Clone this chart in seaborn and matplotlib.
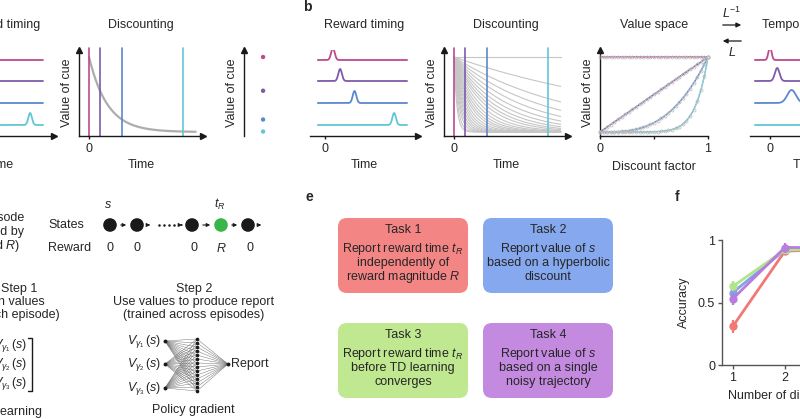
import numpy as np
import pandas as pd
import matplotlib
matplotlib.use("Agg")
import matplotlib.pyplot as plt
import seaborn as sns
from matplotlib.patches import FancyBboxPatch, Circle

sns.set_theme(style="white")
plt.rcParams["font.family"] = ["Liberation Sans", "DejaVu Sans"]
plt.rcParams["mathtext.fontset"] = "custom"
plt.rcParams["mathtext.rm"] = "Liberation Sans"
plt.rcParams["mathtext.it"] = "Liberation Sans:italic"
plt.rcParams["mathtext.bf"] = "Liberation Sans:bold"

FS = 9

# ---- data ----
cue_colors = ["#bd4a8e", "#7f5aa8", "#5b88cf", "#62c6d6"]
reward_times = np.array([0, 1, 3, 8.5])      # reward delay of each cue
cue_offset = 1.1                              # reward timing is drawn relative to cue onset
trace_offsets = [65, 44, 22, 0]               # vertical stacking of the traces
gamma_a = 0.55                                # single discount factor (panel a)
gammas_b = [1.0, 0.95, 0.91, 0.88, 0.85, 0.82, 0.79, 0.76, 0.73, 0.70, 0.66,
            0.62, 0.58, 0.54, 0.50, 0.45, 0.40, 0.35, 0.30, 0.25, 0.20, 0.15,
            0.10, 0.05, 0.02]
temporal_widths = [0.22, 0.32, 0.6, 1.2]

tasks = ["Task 1", "Task 2", "Task 3", "Task 4"]
task_colors = ["#f27777", "#7fa4ea", "#b3e38a", "#b87ddc"]
task_box_colors = ["#f48585", "#86a8ef", "#bfe890", "#c48ae0"]
n_factors = [1, 2, 3, 4]
accuracy = {
    "Task 1": [0.31, 0.91, 0.93, 0.94],
    "Task 2": [0.58, 0.92, 0.93, 0.94],
    "Task 3": [0.63, 0.92, 0.93, 0.94],
    "Task 4": [0.53, 0.94, 0.94, 0.95],
}
acc_err = {
    "Task 1": [0.05, 0.03, 0.02, 0.02],
    "Task 2": [0.03, 0.03, 0.02, 0.02],
    "Task 3": [0.04, 0.03, 0.02, 0.02],
    "Task 4": [0.05, 0.04, 0.02, 0.02],
}
task_text = {
    "Task 1": ["Report reward time $t_R$", "independently of", "reward magnitude $R$"],
    "Task 2": ["Report value of $s$", "based on a hyperbolic", "discount"],
    "Task 3": ["Report reward time $t_R$", "before TD learning", "converges"],
    "Task 4": ["Report value of $s$", "based on a single", "noisy trajectory"],
}

W, H = 800, 419
fig = plt.figure(figsize=(8, 4.19), dpi=100)
canvas = fig.add_axes([0, 0, 1, 1])
canvas.set_xlim(0, W)
canvas.set_ylim(H, 0)
canvas.axis("off")


def box_axes(x0, y0, x1, y1):
    ax = fig.add_axes([x0 / W, 1 - y1 / H, (x1 - x0) / W, (y1 - y0) / H])
    ax.set_facecolor("none")
    return ax


def arrow_axes(ax, left=True, bottom=True, bottom_arrow=True):
    for side in ["top", "right"]:
        ax.spines[side].set_visible(False)
    ax.spines["left"].set_visible(left)
    ax.spines["bottom"].set_visible(bottom)
    for s in ["left", "bottom"]:
        ax.spines[s].set_color("k")
        ax.spines[s].set_linewidth(1)
    if bottom and bottom_arrow:
        ax.plot(1, 0, ">", color="k", ms=4, transform=ax.transAxes, clip_on=False)
    if left:
        ax.plot(0, 1, "^", color="k", ms=4, transform=ax.transAxes, clip_on=False)
    ax.set_yticks([])
    ax.tick_params(axis="x", length=2.5, width=1, pad=2.5, labelsize=FS,
                   bottom=True, color="k")


def txt(x, y, s, **kw):
    kw.setdefault("ha", "center")
    kw.setdefault("va", "center")
    kw.setdefault("fontsize", FS)
    canvas.text(x, y, s, **kw)


def reward_timing(x0, title):
    # 0 of time at x0 + 15 px, 7.2 px per time unit
    ax = box_axes(x0, 50, x0 + 108, 136)
    ax.set_xlim(-15 / 7.2, 93 / 7.2)
    ax.set_ylim(-11, 75)
    t = np.linspace(-1, 11.4, 500)
    for rt, off, c in zip(reward_times, trace_offsets, cue_colors):
        y = off + 12 * np.exp(-0.5 * ((t - rt - cue_offset) / 0.25) ** 2)
        sns.lineplot(x=t, y=y, ax=ax, color=c, lw=1.3)
    arrow_axes(ax, left=False)
    ax.set_xticks([0])
    ax.set_xticklabels(["0"])
    ax.set_xlabel("Time", fontsize=FS, labelpad=3)
    ax.set_title(title, fontsize=FS, pad=16)
    return ax


def discounting(x0, gammas, gray, lw):
    # 0 of time at x0 + 10 px, 11 px per unit; value 0 at y=132, 1 at y=57
    ax = box_axes(x0, 50, x0 + 124, 136)
    ax.set_xlim(-10 / 11, 114 / 11)
    ax.set_ylim(-4 / 75, 82 / 75)
    t = np.linspace(0, 9.7, 400)
    for g in gammas:
        sns.lineplot(x=t, y=g ** t, ax=ax, color=gray, lw=lw)
    for rt, c in zip(reward_times, cue_colors):
        ax.axvline(rt, ymin=0, ymax=1.023, color=c, lw=1.2, clip_on=False)
    arrow_axes(ax)
    ax.set_xticks([0])
    ax.set_xticklabels(["0"])
    ax.set_xlabel("Time", fontsize=FS, labelpad=3)
    ax.set_ylabel("Value of cue", fontsize=FS, labelpad=4)
    ax.set_title("Discounting", fontsize=FS, pad=16)
    return ax


# ---- panel a (cropped) ----
reward_timing(-54, "Reward timing")
discounting(79, [gamma_a], "#adadad", 1.6)
ax = box_axes(244, 50, 280, 136)
ax.set_xlim(0, 1)
ax.set_ylim(-4 / 75, 82 / 75)
ax.scatter(np.full(4, 0.53), gamma_a ** reward_times, c=cue_colors, s=10, lw=0)
arrow_axes(ax, bottom=False)
ax.set_xticks([])
ax.set_ylabel("Value of cue", fontsize=FS, labelpad=4)

# ---- panel b ----
txt(303, 7, "b", fontweight="bold", fontsize=10, ha="left")
reward_timing(310, "Reward timing")
discounting(444, gammas_b, "#c6c6c6", 0.8)

ax = box_axes(600, 50, 708, 136)
ax.set_xlim(0, 1)
ax.set_ylim(-4 / 75, 82 / 75)
gd = np.linspace(0, 1, 300)
gm = np.linspace(0, 1, 31)
for rt, c in zip(reward_times, cue_colors):
    sns.lineplot(x=gd, y=gd ** rt, ax=ax, color=c, lw=1.1)
    ax.plot(gm, gm ** rt, ls=(0, (2, 1.5)), color="#c9c9c9", lw=0.7,
            marker="o", ms=2.2, mfc="none", mec="#b8b8b8", mew=0.5,
            zorder=3, clip_on=False)
arrow_axes(ax, bottom_arrow=False)
ax.set_xticks([0, 0.5, 1])
ax.set_xticklabels(["0", "", "1"])
ax.set_xlabel("Discount factor", fontsize=FS, labelpad=4)
ax.set_ylabel("Value of cue", fontsize=FS, labelpad=4)
ax.set_title("Value space", fontsize=FS, pad=16)

canvas.annotate("", xy=(744, 25), xytext=(720, 25),
                arrowprops=dict(arrowstyle="-|>", color="k", lw=0.9, mutation_scale=7))
canvas.annotate("", xy=(720, 41), xytext=(744, 41),
                arrowprops=dict(arrowstyle="-|>", color="k", lw=0.9, mutation_scale=7))
txt(732, 13, "$L^{-1}$")
txt(732, 53, "$L$")

ax = box_axes(750, 50, 862, 136)
ax.set_xlim(-20 / 7.2, 92 / 7.2)
ax.set_ylim(-11, 75)
t = np.linspace(-2.1, 12, 500)
for rt, off, c, w in zip(reward_times, trace_offsets, cue_colors, temporal_widths):
    y = off + 13 * np.exp(-0.5 * ((t - rt) / w) ** 2)
    sns.lineplot(x=t, y=y, ax=ax, color=c, lw=1.3)
arrow_axes(ax, left=False)
ax.set_xticks([0])
ax.set_xticklabels(["0"])
ax.set_xlabel("Time", fontsize=FS, labelpad=3)
ax.set_title("Temporal space", fontsize=FS, pad=16)

# ---- panel c (cropped) ----
txt(24, 218, "New episode", ha="right")
txt(24, 232, "(defined by", ha="right")
txt(20, 246, "$t_R$ and $R$)", ha="right")
txt(48, 225, "States", ha="left")
txt(48, 248, "Reward", ha="left")
txt(108, 205, "$s$")
txt(220, 204, "$t_R$")
state_x = [110, 137, 192, 221, 248]
for i, x in enumerate(state_x):
    canvas.add_patch(Circle((x, 225), 6.8, color="#39b54a" if i == 3 else "k", lw=0))
arr = dict(arrowstyle="-|>", color="k", lw=0.8, mutation_scale=5)
for a, b in [(118, 129), (145, 153), (179, 185), (200, 213), (229, 240), (256, 264)]:
    canvas.annotate("", xy=(b, 225), xytext=(a, 225), arrowprops=arr)
for x in [159, 164, 169, 174]:
    canvas.plot(x, 225, "o", color="k", ms=0.8)
for x, s in zip(state_x, ["0", "0", "0", "$R$", "0"]):
    txt(x + (2 if s == "0" and x > 180 else 0), 248, s)

txt(37, 289, "Step 1", ha="right")
txt(45, 302, "Learn values", ha="right")
txt(60, 315, "(within each episode)", ha="right")
for k, y in enumerate([345, 364, 383]):
    txt(27, y, r"$V_{\gamma_%d}\,(s)$" % (k + 1), ha="right")
canvas.plot([28, 32, 32, 28], [338, 338, 391, 391], color="k", lw=1)
txt(42, 412, "TD learning", ha="right")

txt(194, 289, "Step 2")
txt(194, 302, "Use values to produce report")
txt(194, 315, "(trained across episodes)")
in_y = [341, 364, 388]
hid_y = np.linspace(339, 391, 14)
for k, y in enumerate(in_y):
    txt(161, y, r"$V_{\gamma_%d}\,(s)$" % (k + 1), ha="right")
    for hy in hid_y:
        canvas.plot([165, 197], [y, hy], color="#777777", lw=0.35)
    canvas.plot(165, y, "o", color="k", ms=1.8)
for hy in hid_y:
    canvas.plot([197, 228], [hy, 364], color="#777777", lw=0.35)
    canvas.plot(197, hy, "o", color="k", ms=1.6)
canvas.plot(228, 364, "o", color="k", ms=1.8)
txt(231, 364, "Report", ha="left")
txt(193, 410, "Policy gradient")

# ---- panel e ----
txt(305, 197, "e", fontweight="bold", fontsize=10, ha="left")
box_pos = {"Task 1": (338, 218), "Task 2": (483, 218),
           "Task 3": (338, 323), "Task 4": (483, 323)}
for task, bc in zip(tasks, task_box_colors):
    x0, y0 = box_pos[task]
    canvas.add_patch(FancyBboxPatch((x0, y0), 130, 75, lw=0, facecolor=bc,
                                    boxstyle="round,pad=0,rounding_size=9"))
    cx = x0 + 65
    txt(cx, y0 + 12, task)
    for j, line in enumerate(task_text[task]):
        txt(cx, y0 + 31 + 14 * j, line)

# ---- panel f ----
txt(675, 197, "f", fontweight="bold", fontsize=10, ha="left")
rows = []
for task in tasks:
    for n, a, e in zip(n_factors, accuracy[task], acc_err[task]):
        rows.append({"task": task, "n": n, "acc": a, "err": e})
df = pd.DataFrame(rows)
ax = box_axes(722, 240, 884, 365)
sns.lineplot(data=df, x="n", y="acc", hue="task", hue_order=tasks,
             palette=task_colors, marker="o", markersize=6, markeredgewidth=0,
             lw=2, ax=ax, legend=False)
for task, c in zip(tasks, task_colors):
    d = df[df.task == task]
    ax.errorbar(d.n, d.acc, yerr=d.err, fmt="none", ecolor=c, elinewidth=1.6, capsize=0)
ax.set_xlim(0.79, 3.91)
ax.set_ylim(0, 1)
ax.set_yticks([0, 0.5, 1])
ax.set_yticklabels(["0", "0.5", "1"])
ax.set_xticks([1, 2, 3])
for side in ["top", "right"]:
    ax.spines[side].set_visible(False)
for side in ["left", "bottom"]:
    ax.spines[side].set_color("#555555")
    ax.spines[side].set_linewidth(1)
ax.tick_params(length=3, width=1, pad=2, labelsize=FS, color="#555555",
               left=True, bottom=True)
ax.set_xlabel("Number of discount factors", fontsize=FS, labelpad=4)
ax.set_ylabel("Accuracy", fontsize=FS, labelpad=6)

fig.savefig("out.png", dpi=100)
